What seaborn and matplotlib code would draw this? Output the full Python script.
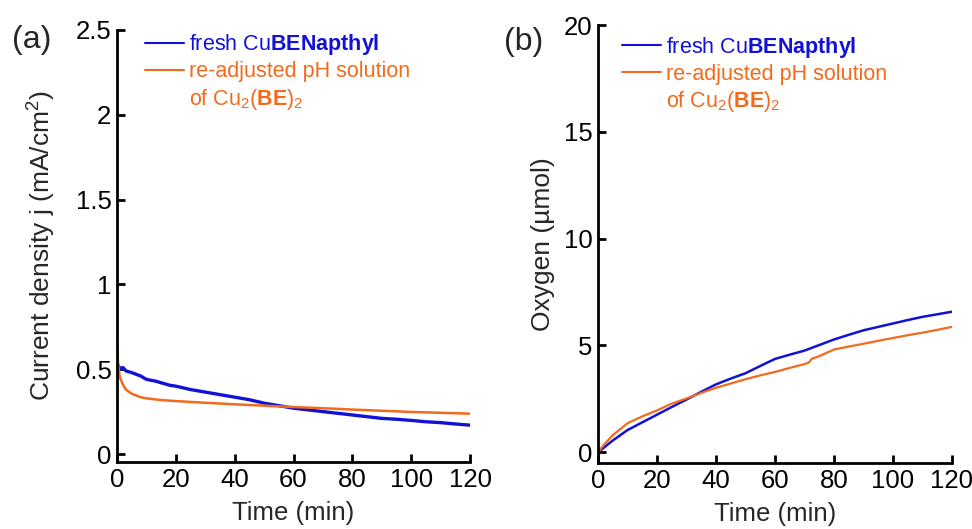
import matplotlib
matplotlib.use("Agg")
import matplotlib.pyplot as plt
import seaborn as sns
from matplotlib.lines import Line2D

# (a) current density vs time
blue_a_t = [0, 0.5, 1, 2, 3, 5, 8, 10, 13, 15, 18, 20, 25, 30, 35, 40, 45, 50,
            55, 60, 65, 70, 75, 80, 85, 90, 95, 100, 105, 110, 115, 120]
blue_a_j = [0.45, 0.52, 0.50, 0.51, 0.49, 0.48, 0.46, 0.44, 0.43, 0.42, 0.405, 0.40,
            0.38, 0.365, 0.35, 0.335, 0.32, 0.30, 0.285, 0.27, 0.26, 0.25, 0.24,
            0.23, 0.22, 0.21, 0.205, 0.198, 0.19, 0.185, 0.177, 0.17]
orange_a_t = [0, 0.3, 0.7, 1, 2, 3, 5, 8, 10, 15, 20, 30, 40, 50, 60, 70, 80, 90,
              100, 110, 120]
orange_a_j = [0.65, 0.55, 0.48, 0.45, 0.41, 0.38, 0.355, 0.335, 0.328, 0.318, 0.312,
              0.302, 0.293, 0.285, 0.277, 0.27, 0.262, 0.255, 0.248, 0.243, 0.238]

# (b) oxygen vs time
blue_b_t = [0, 5, 10, 15, 20, 25, 30, 35, 40, 45, 50, 55, 60, 65, 70, 75, 80, 85,
            90, 95, 100, 105, 110, 115, 120]
blue_b_o2 = [0, 0.55, 1.04, 1.4, 1.76, 2.12, 2.47, 2.83, 3.18, 3.45, 3.70, 4.04,
             4.37, 4.57, 4.76, 5.02, 5.28, 5.50, 5.71, 5.87, 6.03, 6.19, 6.34, 6.46, 6.58]
orange_b_t = [0, 2, 5, 10, 15, 20, 25, 30, 35, 40, 45, 50, 55, 60, 65, 70, 71.5,
              72.5, 75, 80, 85, 90, 95, 100, 105, 110, 115, 120]
orange_b_o2 = [0, 0.35, 0.8, 1.36, 1.68, 1.96, 2.28, 2.52, 2.78, 3.02, 3.22, 3.42,
               3.6, 3.76, 3.95, 4.13, 4.2, 4.38, 4.5, 4.81, 4.95, 5.08, 5.22, 5.35,
               5.48, 5.60, 5.73, 5.87]

x_ticks = [0, 20, 40, 60, 80, 100, 120]
a_ticks = [0, 0.5, 1, 1.5, 2, 2.5]
a_tick_labels = ['0', '0.5', '1', '1.5', '2', '2.5']
b_ticks = [0, 5, 10, 15, 20]

label_blue = r'fresh Cu$\mathbf{BENapthyl}$'
label_orange = ['re-adjusted pH solution', r'of Cu$_2$($\mathbf{BE}$)$_2$']

BLUE = '#1212d6'
ORANGE = '#f26a1b'

sns.set_style("ticks")
plt.rcParams['font.family'] = ['Liberation Sans', 'DejaVu Sans']
plt.rcParams['mathtext.fontset'] = 'custom'
plt.rcParams['mathtext.rm'] = 'Liberation Sans'
plt.rcParams['mathtext.it'] = 'Liberation Sans:italic'
plt.rcParams['mathtext.bf'] = 'Liberation Sans:bold'

fig = plt.figure(figsize=(9.72, 5.29), dpi=100)
ax1 = fig.add_axes([0.1204, 0.1267, 0.3632, 0.8166])
ax2 = fig.add_axes([0.6152, 0.1248, 0.3642, 0.8279])

sns.lineplot(x=blue_a_t, y=blue_a_j, ax=ax1, color=BLUE, lw=2.4)
sns.lineplot(x=orange_a_t, y=orange_a_j, ax=ax1, color=ORANGE, lw=1.8)
sns.lineplot(x=blue_b_t, y=blue_b_o2, ax=ax2, color=BLUE, lw=1.8)
sns.lineplot(x=orange_b_t, y=orange_b_o2, ax=ax2, color=ORANGE, lw=1.6)

ax1.set_xlim(0, 120)
ax1.set_ylim(-0.047, 2.5)
ax1.set_yticks(a_ticks)
ax1.set_yticklabels(a_tick_labels)
ax1.set_ylabel('Current density j (mA/cm$^2$)', fontsize=19, labelpad=13)

ax2.set_xlim(0, 120)
ax2.set_ylim(-0.5, 20)
ax2.set_yticks(b_ticks)
ax2.set_ylabel('Oxygen (\u00b5mol)', fontsize=19, labelpad=6)

legend_anchor = {ax1: (0.055, 1.015), ax2: (0.044, 0.998)}

for ax in (ax1, ax2):
    ax.set_xticks(x_ticks)
    ax.set_xlabel('Time (min)', fontsize=18.5, labelpad=7)
    sns.despine(ax=ax)
    for s in ('left', 'bottom'):
        ax.spines[s].set_linewidth(2)
        ax.spines[s].set_color('black')
    ax.tick_params(direction='in', length=5.5, width=2, labelsize=18.5,
                   colors='black', pad=4)
    handles = [Line2D([], [], color=BLUE, lw=1.5),
               Line2D([], [], color=ORANGE, lw=1.5),
               Line2D([], [], color='none', lw=1.5)]
    leg = ax.legend(handles, [label_blue] + label_orange, loc='upper left',
                    bbox_to_anchor=legend_anchor[ax], frameon=False, fontsize=15.5,
                    handlelength=1.8, handletextpad=0.25, labelspacing=0.2,
                    borderaxespad=0)
    for txt, c in zip(leg.get_texts(), [BLUE, ORANGE, ORANGE]):
        txt.set_color(c)

fig.text(0.012, 0.925, '(a)', fontsize=23, va='center')
fig.text(0.519, 0.92, '(b)', fontsize=23, va='center')

fig.savefig('out.png', dpi=100)
